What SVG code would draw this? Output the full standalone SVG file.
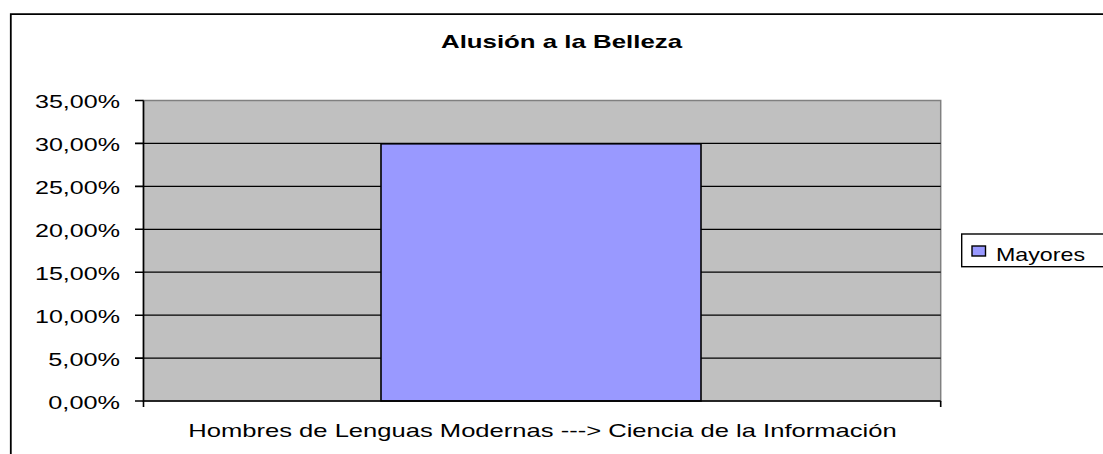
<svg xmlns="http://www.w3.org/2000/svg" width="1103" height="454" viewBox="0 0 1103 454">
<style>
text{font-family:"Liberation Sans",Arial,sans-serif;fill:#000}
.lab{font-size:17.7px}
.yl{font-size:17.7px;text-anchor:end}
.grid{stroke:#000;stroke-width:1.2}
.axis{stroke:#000;stroke-width:1.6;fill:none}
</style>
<rect width="1103" height="454" fill="#fff"/>
<g id="frame"><path d="M10.8,460 V14.2 H1110" fill="none" stroke="#000" stroke-width="1.8"/></g>
<g id="title"><text x="441" y="47.7" class="lab" font-weight="bold" textLength="241" lengthAdjust="spacingAndGlyphs">Alusión a la Belleza</text></g>
<g id="plot">
<rect x="143.5" y="100.5" width="797.2" height="300.5" fill="#C0C0C0" stroke="#808080" stroke-width="1.5"/>
<g class="grid">
<line x1="143.5" y1="143.4" x2="940.7" y2="143.4"/>
<line x1="143.5" y1="186.4" x2="940.7" y2="186.4"/>
<line x1="143.5" y1="229.3" x2="940.7" y2="229.3"/>
<line x1="143.5" y1="272.2" x2="940.7" y2="272.2"/>
<line x1="143.5" y1="315.2" x2="940.7" y2="315.2"/>
<line x1="143.5" y1="358.1" x2="940.7" y2="358.1"/>
</g>
</g>
<g id="bar"><rect x="381" y="143.8" width="320" height="257.2" fill="#9999FF" stroke="#000" stroke-width="1.6"/></g>
<g id="axes">
<path class="axis" d="M143.5,100.5 V401 H940.7"/>
<path class="axis" d="M135,100.5 H143.5 M135,143.4 H143.5 M135,186.4 H143.5 M135,229.3 H143.5 M135,272.2 H143.5 M135,315.2 H143.5 M135,358.1 H143.5 M135,401 H143.5 M143.5,401 V407 M940.7,401 V407"/>
<text x="120" y="108.3" class="yl" textLength="85" lengthAdjust="spacingAndGlyphs">35,00%</text>
<text x="120" y="151.2" class="yl" textLength="85" lengthAdjust="spacingAndGlyphs">30,00%</text>
<text x="120" y="194.2" class="yl" textLength="85" lengthAdjust="spacingAndGlyphs">25,00%</text>
<text x="120" y="237.1" class="yl" textLength="85" lengthAdjust="spacingAndGlyphs">20,00%</text>
<text x="120" y="280" class="yl" textLength="85" lengthAdjust="spacingAndGlyphs">15,00%</text>
<text x="120" y="323" class="yl" textLength="85" lengthAdjust="spacingAndGlyphs">10,00%</text>
<text x="120" y="365.9" class="yl" textLength="71.7" lengthAdjust="spacingAndGlyphs">5,00%</text>
<text x="120" y="408.8" class="yl" textLength="71.7" lengthAdjust="spacingAndGlyphs">0,00%</text>
<text x="188.3" y="436.5" class="lab" textLength="708.4" lengthAdjust="spacingAndGlyphs">Hombres de Lenguas Modernas ---&gt; Ciencia de la Información</text>
</g>
<g id="legend">
<rect x="961.7" y="234" width="150" height="32.7" fill="#fff" stroke="#000" stroke-width="1.4"/>
<rect x="972" y="246" width="13.5" height="10" fill="#9999FF" stroke="#000" stroke-width="1.4"/>
<text x="996" y="260.7" class="lab" textLength="89" lengthAdjust="spacingAndGlyphs">Mayores</text>
</g>
</svg>
